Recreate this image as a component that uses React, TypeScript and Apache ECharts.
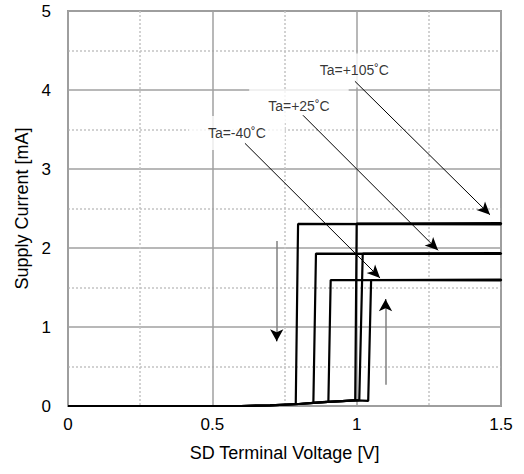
import React, { useEffect, useRef } from "react";
import * as echarts from "echarts";

// Hysteresis loops: [SD voltage (V), supply current (mA)]
const loopPlus105: [number, number][] = [
  [0, 0], [0.6, 0], [0.7, 0.008], [0.8, 0.025], [0.85, 0.04], [0.9, 0.052], [0.95, 0.062], [0.995, 0.075],
  [1.0, 2.31], [1.5, 2.315],
  [1.5, 2.3], [0.797, 2.305], [0.789, 0.025], [0.7, 0.008], [0.6, 0], [0, 0],
];
const loopPlus25: [number, number][] = [
  [0, 0], [0.6, 0], [0.7, 0.008], [0.8, 0.025], [0.85, 0.04], [0.9, 0.052], [0.95, 0.062], [1.009, 0.074],
  [1.021, 1.93], [1.5, 1.935],
  [1.5, 1.925], [0.859, 1.93], [0.85, 0.04], [0.8, 0.025], [0.7, 0.008], [0.6, 0], [0, 0],
];
const loopMinus40: [number, number][] = [
  [0, 0], [0.6, 0], [0.7, 0.008], [0.8, 0.025], [0.85, 0.04], [0.9, 0.052], [0.95, 0.062], [1.0, 0.072], [1.04, 0.065],
  [1.05, 1.595], [1.5, 1.6],
  [1.5, 1.59], [0.91, 1.595], [0.902, 0.055], [0.85, 0.04], [0.8, 0.025], [0.7, 0.008], [0.6, 0], [0, 0],
];

// Temperature labels: [x, y, text]
const labelTexts = ["Ta=-40˚C", "Ta=+25˚C", "Ta=+105˚C"];
const labelX = [0.585, 0.8, 0.992];
const labelY = [3.456, 3.797, 4.247];

// Label pointer arrows: [x1, y1, x2, y2]
const pointerArrows: [number, number, number, number][] = [
  [0.613, 3.325, 1.081, 1.62],
  [0.814, 3.68, 1.282, 1.97],
  [0.994, 4.11, 1.462, 2.42],
];
// Sweep direction arrows: [x, yFrom, yTo]
const sweepArrows: [number, number, number][] = [
  [0.723, 2.09, 0.82],
  [1.1, 0.27, 1.35],
];

const xTickLabels = ["0", "0.5", "1", "1.5"];
const yTickLabels = ["0", "1", "2", "3", "4", "5"];

const FONT = "'Liberation Sans', Arial, sans-serif";

export default function App() {
  const ref = useRef<HTMLDivElement>(null);
  useEffect(() => {
    document.body.style.margin = "0";
    const chart = echarts.init(ref.current!, null, { renderer: "svg" });

    const lineSeries = (name: string, data: [number, number][]) => ({
      name,
      type: "line",
      data,
      showSymbol: false,
      symbol: "none",
      lineStyle: { color: "#000", width: 2.2 },
      z: 5,
    });

    const pointerLines = pointerArrows.map(([x1, y1, x2, y2]) => [
      { coord: [x1, y1] },
      { coord: [x2, y2] },
    ]);
    const sweepLines = sweepArrows.map(([x, a, b]) => [
      { coord: [x, a] },
      { coord: [x, b] },
    ]);
    const sweepHeads = sweepArrows.map(([x, a, b]) => [
      { coord: [x, b - (b - a) * 0.02] },
      { coord: [x, b] },
    ]);

    chart.setOption({
      animation: false,
      grid: {
        left: 68,
        right: 23,
        top: 11,
        bottom: 68,
        show: true,
        borderColor: "#999",
        borderWidth: 2,
      },
      xAxis: {
        type: "value",
        min: 0,
        max: 1.5,
        interval: 0.5,
        name: "SD Terminal Voltage [V]",
        nameLocation: "middle",
        nameGap: 38,
        nameTextStyle: { fontSize: 18, color: "#000", fontFamily: FONT },
        axisLine: { show: false },
        axisTick: { show: false },
        axisLabel: {
          fontSize: 17,
          color: "#000",
          fontFamily: FONT,
          margin: 10,
          formatter: (v: number) => xTickLabels[Math.round(v / 0.5)] ?? "",
        },
        splitLine: { show: true, lineStyle: { color: "#a0a0a0", width: 1.5 } },
        minorTick: { show: false, splitNumber: 2 },
        minorSplitLine: { show: true, lineStyle: { color: "#c4c4c4", width: 1.5, type: [2, 2] } },
      },
      yAxis: {
        type: "value",
        min: 0,
        max: 5,
        interval: 1,
        name: "Supply Current [mA]",
        nameLocation: "middle",
        nameGap: 37,
        nameTextStyle: { fontSize: 18, color: "#000", fontFamily: FONT },
        axisLine: { show: false },
        axisTick: { show: false },
        axisLabel: {
          fontSize: 17,
          color: "#000",
          fontFamily: FONT,
          margin: 17,
          formatter: (v: number) => yTickLabels[Math.round(v)] ?? "",
        },
        splitLine: { show: true, lineStyle: { color: "#a0a0a0", width: 1.5 } },
        minorTick: { show: false, splitNumber: 2 },
        minorSplitLine: { show: true, lineStyle: { color: "#c4c4c4", width: 1.5, type: [2, 2] } },
      },
      series: [
        {
          type: "scatter",
          data: labelTexts.map((t, i) => [labelX[i], labelY[i], t]),
          symbolSize: 1,
          itemStyle: { color: "rgba(0,0,0,0)" },
          z: 3,
          label: {
            show: true,
            position: "inside",
            formatter: (p: any) => p.value[2],
            color: "#000",
            fontSize: 14,
            fontFamily: FONT,
            backgroundColor: "#fff",
            padding: [10, 19],
          },
          markLine: {
            silent: true,
            symbol: ["none", "arrow"],
            symbolSize: [9, 13],
            label: { show: false },
            lineStyle: { color: "#000", width: 1, type: "solid" },
            data: pointerLines,
          },
        },
        {
          type: "line",
          data: [],
          markLine: {
            silent: true,
            symbol: ["none", "none"],
            label: { show: false },
            lineStyle: { color: "#808080", width: 1.5, type: "solid" },
            data: sweepLines,
          },
        },
        {
          type: "line",
          data: [],
          markLine: {
            silent: true,
            symbol: ["none", "arrow"],
            symbolSize: [10, 12],
            label: { show: false },
            lineStyle: { color: "#000", width: 1, type: "solid" },
            data: sweepHeads,
          },
        },
        lineSeries("Ta=-40", loopMinus40),
        lineSeries("Ta=+25", loopPlus25),
        lineSeries("Ta=+105", loopPlus105),
      ],
    });
    return () => chart.dispose();
  }, []);
  return <div ref={ref} style={{ width: 524, height: 474 }} />;
}
